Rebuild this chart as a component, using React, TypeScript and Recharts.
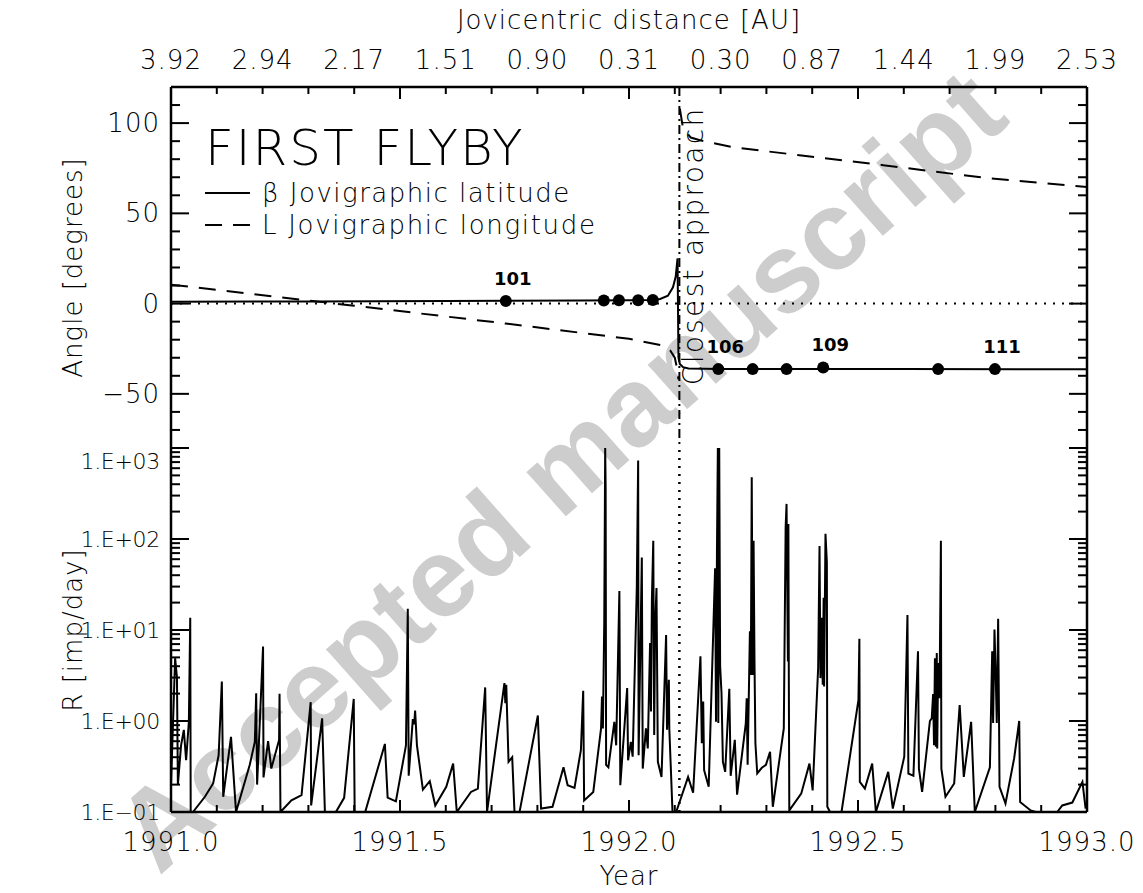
import React from "react";
import {
  ComposedChart,
  Line,
  Scatter,
  XAxis,
  YAxis,
  ReferenceLine,
  Legend,
} from "recharts";

const FONT = "'DejaVu Sans', sans-serif";
const W = 1143;

const closestApproach = 1992.11;

// upper panel: beta (jovigraphic latitude)
const latYear = [1991.0, 1991.3, 1991.6, 1991.9, 1992.0, 1992.05, 1992.068, 1992.085, 1992.096, 1992.102, 1992.106, 1992.108, 1992.111, 1992.118, 1992.13, 1992.2, 1992.6, 1993.0];
const latAngle = [1.0, 1.2, 1.5, 1.7, 1.8, 2.0, 2.6, 4.4, 9, 15, 25, -30, -33.5, -35.2, -35.9, -36.2, -36.3, -36.4];

// upper panel: L (jovigraphic longitude), null = wrap at closest approach
const lonYear = [1991.0, 1991.4, 1991.73, 1992.0, 1992.07, 1992.09, 1992.1, 1992.105, 1992.108, 1992.109, 1992.111, 1992.118, 1992.135, 1992.155, 1992.227, 1992.555, 1992.773, 1993.0];
const lonAngle = [10.5, -1.2, -11, -19.5, -23, -26, -30, -36, -42, null, 108, 97, 92, 90.5, 86.6, 76.7, 69.8, 64.6];

// orbit markers
const orbitYear = [1991.731, 1991.945, 1991.978, 1992.02, 1992.052, 1992.195, 1992.27, 1992.344, 1992.424, 1992.675, 1992.799];
const orbitAngle = [1.4, 1.7, 1.8, 1.9, 2.0, -36.3, -36.3, -36.3, -35.4, -36.3, -36.3];
const orbitNumber = [101, 102, 103, 104, 105, 106, 107, 108, 109, 110, 111];
const labelledOrbits = [101, 106, 109, 111];

// lower panel: impact rate R [imp/day]
const rateYear = [
  1991.0, 1991.009, 1991.013, 1991.015, 1991.022, 1991.028, 1991.033, 1991.039, 1991.042, 1991.043,
  1991.048, 1991.074, 1991.092, 1991.104, 1991.111, 1991.114, 1991.131, 1991.142, 1991.172, 1991.183,
  1991.186, 1991.188, 1991.201, 1991.202, 1991.212, 1991.219, 1991.236, 1991.237, 1991.239, 1991.263,
  1991.285, 1991.305, 1991.306, 1991.33, 1991.336, 1991.36, 1991.378, 1991.399, 1991.401, 1991.424,
  1991.467, 1991.473, 1991.491, 1991.513, 1991.517, 1991.519, 1991.528, 1991.531, 1991.533, 1991.537,
  1991.55, 1991.565, 1991.577, 1991.601, 1991.616, 1991.624, 1991.655, 1991.67, 1991.686, 1991.69,
  1991.728, 1991.73, 1991.732, 1991.737, 1991.745, 1991.75, 1991.761, 1991.801, 1991.808, 1991.833,
  1991.857, 1991.866, 1991.881, 1991.895, 1991.9, 1991.902, 1991.922, 1991.939, 1991.941, 1991.943,
  1991.946, 1991.948, 1991.949, 1991.95, 1991.955, 1991.968, 1991.972, 1991.979, 1991.981, 1991.996,
  1991.998, 1992.004, 1992.008, 1992.017, 1992.02, 1992.021, 1992.028, 1992.03, 1992.037, 1992.041,
  1992.046, 1992.048, 1992.05, 1992.053, 1992.055, 1992.057, 1992.06, 1992.063, 1992.071, 1992.081,
  1992.083, 1992.087, 1992.088, 1992.095, 1992.103, 1992.129, 1992.14, 1992.156, 1992.159, 1992.162,
  1992.164, 1992.174, 1992.188, 1992.19, 1992.192, 1992.194, 1992.195, 1992.197, 1992.199, 1992.202,
  1992.205, 1992.21, 1992.219, 1992.222, 1992.231, 1992.236, 1992.255, 1992.257, 1992.259, 1992.264,
  1992.266, 1992.268, 1992.27, 1992.272, 1992.274, 1992.276, 1992.28, 1992.29, 1992.299, 1992.308,
  1992.314, 1992.338, 1992.342, 1992.344, 1992.347, 1992.348, 1992.349, 1992.35, 1992.376, 1992.394,
  1992.401, 1992.413, 1992.416, 1992.418, 1992.421, 1992.423, 1992.425, 1992.426, 1992.429, 1992.432,
  1992.433, 1992.439, 1992.464, 1992.501, 1992.503, 1992.504, 1992.515, 1992.531, 1992.539, 1992.566,
  1992.576, 1992.601, 1992.608, 1992.61, 1992.621, 1992.631, 1992.633, 1992.64, 1992.657, 1992.661,
  1992.664, 1992.666, 1992.668, 1992.67, 1992.672, 1992.673, 1992.675, 1992.678, 1992.681, 1992.682,
  1992.691, 1992.71, 1992.722, 1992.731, 1992.747, 1992.755, 1992.788, 1992.793, 1992.795, 1992.798,
  1992.801, 1992.803, 1992.806, 1992.808, 1992.809, 1992.822, 1992.841, 1992.852, 1992.854, 1992.877,
  1992.888, 1992.935, 1992.946, 1992.968, 1992.99, 1992.997,
];
const rateValue = [
  0.2, 4.9, 3.0, 0.2, 0.54, 0.8, 0.37, 0.98, 13.6, 0.1,
  0.1, 0.147, 0.206, 0.42, 2.72, 0.147, 0.67, 0.1, 0.33, 0.59,
  2.02, 0.2, 6.6, 0.24, 0.6, 0.3, 0.62, 1.99, 0.1, 0.134,
  0.153, 1.61, 0.118, 1.07, 0.1, 0.1, 0.143, 1.75, 0.1, 0.1,
  0.56, 0.144, 0.131, 0.54, 17.1, 0.25, 1.05, 0.92, 1.3, 0.54,
  0.176, 0.218, 0.118, 0.189, 0.34, 0.1, 0.166, 0.181, 2.34, 0.1,
  2.61, 1.57, 2.5, 0.356, 0.4, 0.1, 0.1, 1.15, 0.109, 0.114,
  0.31, 0.197, 0.184, 0.48, 2.15, 0.134, 0.166, 0.83, 1.86, 0.83,
  12.5, 1000, 371, 0.33, 0.31, 0.98, 0.54, 26.8, 0.197, 2.3,
  0.37, 0.59, 0.405, 29.2, 729, 0.42, 62.5, 0.3, 0.83, 0.5,
  7.2, 1.27, 21.7, 95.5, 0.7, 11, 29, 0.356, 0.243, 8.8,
  0.8, 2.84, 0.83, 0.1, 0.1, 0.243, 0.163, 5.14, 0.57, 1.64,
  0.288, 0.189, 47.7, 0.98, 68, 1000, 0.95, 1000, 4.0, 2.02,
  0.356, 0.276, 2.26, 0.25, 0.62, 0.155, 0.94, 1.78, 0.33, 9.7,
  3.2, 478, 3.2, 95.5, 4.5, 0.57, 0.265, 0.306, 0.33, 0.46,
  0.114, 0.83, 134, 243, 4.5, 146, 2.5, 0.104, 0.159, 0.34,
  0.173, 3.82, 84, 2.96, 13.6, 2.5, 22.6, 2.4, 114, 55,
  0.114, 0.1, 0.1, 1.71, 8, 0.214, 0.181, 0.34, 0.1, 0.276,
  0.109, 0.405, 14.6, 0.265, 0.25, 5.83, 0.3, 0.166, 1.0, 1.07,
  1.98, 0.54, 4.9, 0.52, 5.6, 0.5, 4.34, 1.78, 95.5, 0.3,
  0.147, 0.206, 1.5, 0.243, 0.98, 0.1, 0.31, 5.83, 0.95, 10.1,
  2.72, 0.95, 13.3, 0.95, 0.189, 0.124, 0.39, 1.0, 0.129, 0.104,
  0.1, 0.1, 0.118, 0.127, 0.214, 0.109,
];

// axes
const yearTicks = Array.from({ length: 21 }, (_, i) => Math.round((1991 + i * 0.1) * 10) / 10);
const yearLabelValues = [1991.0, 1991.5, 1992.0, 1992.5, 1993.0];
const yearLabels = ["1991.0", "1991.5", "1992.0", "1992.5", "1993.0"];
const distanceTickYears = [1991.0, 1991.2, 1991.4, 1991.6, 1991.8, 1992.0, 1992.2, 1992.4, 1992.6, 1992.8, 1993.0];
const distanceLabels = ["3.92", "2.94", "2.17", "1.51", "0.90", "0.31", "0.30", "0.87", "1.44", "1.99", "2.53"];
const angleTicks = Array.from({ length: 21 }, (_, i) => -80 + i * 10);
const angleLabelValues = [-50, 0, 50, 100];
const angleLabels = ["\u221250", "0", "50", "100"];
const rateTicks = [0.1, 1, 10, 100].flatMap((d) => [1, 2, 3, 4, 5, 6, 7, 8, 9].map((m) => m * d)).concat([1000]);
const rateLabelValues = [0.1, 1, 10, 100, 1000];
const rateLabels = ["1.E\u221201", "1.E+00", "1.E+01", "1.E+02", "1.E+03"];

const latData = latYear.map((year, i) => ({ year, angle: latAngle[i] }));
const lonData = lonYear.map((year, i) => ({ year, angle: lonAngle[i] }));
const orbitData = orbitYear.map((year, i) => ({ year, angle: orbitAngle[i], orbit: orbitNumber[i] }));
const rateData = rateYear.map((year, i) => ({ year, rate: rateValue[i] }));

const frame = { stroke: "#000", strokeWidth: 2.5 };
const txt = { fontFamily: FONT, fontSize: 26, fontWeight: 200, letterSpacing: 1, fill: "#000" };
const smallTxt = { ...txt, fontSize: 22, letterSpacing: -0.3 };

const near = (a: number, b: number) => Math.abs(a - b) < 1e-6 * Math.max(1, Math.abs(b));
const labelAt = (values: number[], labels: string[], v: number) => {
  const i = values.findIndex((x) => near(x, Number(v)));
  return i >= 0 ? labels[i] : undefined;
};
const halfYear = (v: number) => Math.abs(v * 2 - Math.round(v * 2)) < 1e-6;
const decade = (v: number) => Math.abs(Math.log10(v) - Math.round(Math.log10(v))) < 1e-6;

// x ticks: dir = +1 draws downward, -1 upward
const xTick = (dir: number, labels?: [number[], string[]], labelDy = 0) => (props: any) => {
  const { x, y, payload } = props;
  const v = Number(payload.value);
  const len = halfYear(v) ? 12 : 7;
  const label = labels ? labelAt(labels[0], labels[1], v) : undefined;
  return (
    <g>
      <line x1={x} x2={x} y1={y} y2={y + dir * len} stroke="#000" strokeWidth={2} />
      {label && (
        <text x={x} y={y + labelDy} textAnchor="middle" dominantBaseline="central" {...txt}>
          {label}
        </text>
      )}
    </g>
  );
};

// y ticks: dir = +1 draws rightward, -1 leftward
const yTick = (dir: number, isMajor: (v: number) => boolean, labels?: [number[], string[]], style = txt) => (props: any) => {
  const { x, y, payload } = props;
  const v = Number(payload.value);
  const len = isMajor(v) ? 18 : 9;
  const label = labels ? labelAt(labels[0], labels[1], v) : undefined;
  const dy = near(v, 1000) ? 13 : 0;
  return (
    <g>
      <line x1={x} x2={x + dir * len} y1={y} y2={y} stroke="#000" strokeWidth={2} />
      {label && (
        <text x={x - 11} y={y + dy} textAnchor="end" dominantBaseline="central" {...style}>
          {label}
        </text>
      )}
    </g>
  );
};

const yTitle = (text: string) => (props: any) => {
  const vb = props.viewBox;
  const cx = vb.x + 73;
  const cy = vb.y + vb.height / 2;
  return (
    <text x={cx} y={cy} transform={`rotate(-90 ${cx} ${cy})`} textAnchor="middle" dominantBaseline="central" {...txt}>
      {text}
    </text>
  );
};

const xTitle = (text: string, dy: number) => (props: any) => {
  const vb = props.viewBox;
  return (
    <text x={vb.x + vb.width / 2} y={vb.y + dy} textAnchor="middle" dominantBaseline="central" {...txt}>
      {text}
    </text>
  );
};

const caLabel = (props: any) => {
  const vb = props.viewBox;
  const cx = vb.x + 14;
  const cy = vb.y + vb.height * 0.44;
  return (
    <text x={cx} y={cy} transform={`rotate(-90 ${cx} ${cy})`} textAnchor="middle" dominantBaseline="central" {...txt} fontSize={28} letterSpacing={2.3}>
      Closest approach
    </text>
  );
};

const OrbitDot = (props: any) => {
  const { cx, cy, payload } = props;
  return (
    <g>
      <circle cx={cx} cy={cy} r={6} fill="#000" />
      {labelledOrbits.includes(payload.orbit) && (
        <text x={cx + 7} y={cy - 23} textAnchor="middle" dominantBaseline="central" fontFamily={FONT} fontSize={18} fontWeight="bold" fill="#000">
          {payload.orbit}
        </text>
      )}
    </g>
  );
};

const LAT_NAME = "\u03b2 Jovigraphic latitude";
const LON_NAME = "L Jovigraphic longitude";

const FlybyLegend = () => (
  <svg width={460} height={140}>
    <text x={10} y={65} fontFamily={FONT} fontSize={50} fontWeight={200} letterSpacing={2} fill="#000">FIRST FLYBY</text>
    <line x1={10} x2={55} y1={93} y2={93} stroke="#000" strokeWidth={2} />
    <text x={67} y={93} dominantBaseline="central" {...txt} letterSpacing={1.5}>{LAT_NAME}</text>
    <line x1={10} x2={55} y1={125} y2={125} stroke="#000" strokeWidth={2} strokeDasharray="17 11" />
    <text x={67} y={125} dominantBaseline="central" {...txt} letterSpacing={1.7}>{LON_NAME}</text>
  </svg>
);

export default function App() {
  return (
    <div style={{ position: "absolute", left: 0, top: 0, width: W, height: 893, background: "#fff", overflow: "hidden" }}>
      <svg width={W} height={893} style={{ position: "absolute", left: 0, top: 0 }}>
        <text
          x={560}
          y={470}
          transform="rotate(-41.5 560 470)"
          textAnchor="middle"
          dominantBaseline="central"
          fontFamily="'Liberation Sans', Arial, sans-serif"
          fontWeight="bold"
          fontSize={112}
          fill="#cdcdcd"
        >
          Accepted manuscript
        </text>
      </svg>

      <div style={{ position: "absolute", left: 0, top: 0 }}>
        <ComposedChart width={W} height={449} margin={{ top: 0, right: 0, bottom: 1, left: 0 }}>
          <XAxis
            xAxisId="year"
            dataKey="year"
            orientation="top"
            type="number"
            domain={[1991, 1993]}
            allowDataOverflow
            ticks={yearTicks}
            interval={0}
            height={87}
            tickSize={0}
            tickMargin={0}
            tickLine={false}
            axisLine={frame}
            tick={xTick(1, [distanceTickYears, distanceLabels], -27)}
            label={xTitle("Jovicentric distance [AU]", 20)}
          />
          <XAxis
            xAxisId="edge"
            orientation="bottom"
            type="number"
            domain={[1991, 1993]}
            allowDataOverflow
            ticks={yearTicks}
            interval={0}
            height={0}
            tickSize={0}
            tickMargin={0}
            tickLine={false}
            axisLine={frame}
            tick={xTick(-1)}
          />
          <YAxis
            yAxisId="angle"
            orientation="left"
            type="number"
            domain={[-80, 120]}
            allowDataOverflow
            ticks={angleTicks}
            interval={0}
            width={171}
            tickSize={0}
            tickMargin={0}
            tickLine={false}
            axisLine={frame}
            tick={yTick(1, (v) => v % 50 === 0, [angleLabelValues, angleLabels])}
            label={yTitle("Angle [degrees]")}
          />
          <YAxis
            yAxisId="angleR"
            orientation="right"
            type="number"
            domain={[-80, 120]}
            allowDataOverflow
            ticks={angleTicks}
            interval={0}
            width={56}
            tickSize={0}
            tickMargin={0}
            tickLine={false}
            axisLine={frame}
            tick={yTick(-1, (v) => v % 50 === 0)}
          />
          <ReferenceLine xAxisId="year" yAxisId="angle" y={0} stroke="#000" strokeWidth={2} strokeDasharray="2 7" />
          <ReferenceLine
            xAxisId="year"
            yAxisId="angle"
            x={closestApproach}
            stroke="#000"
            strokeWidth={2}
            strokeDasharray="9 4 2 4"
            label={caLabel}
          />
          <Line
            xAxisId="year"
            yAxisId="angle"
            data={lonData}
            dataKey="angle"
            name={LON_NAME}
            type="linear"
            stroke="#000"
            strokeWidth={2}
            strokeDasharray="17 11"
            dot={false}
            activeDot={false}
            isAnimationActive={false}
          />
          <Line
            xAxisId="year"
            yAxisId="angle"
            data={latData}
            dataKey="angle"
            name={LAT_NAME}
            type="linear"
            stroke="#000"
            strokeWidth={2}
            dot={false}
            activeDot={false}
            isAnimationActive={false}
          />
          <Scatter
            xAxisId="year"
            yAxisId="angle"
            data={orbitData}
            dataKey="angle"
            shape={OrbitDot}
            legendType="none"
            isAnimationActive={false}
          />
          <Legend
            layout="vertical"
            align="center"
            verticalAlign="middle"
            wrapperStyle={{ left: 195, top: 100, width: 460, height: 140 }}
            content={() => <FlybyLegend />}
          />
        </ComposedChart>
      </div>

      <div style={{ position: "absolute", left: 0, top: 447 }}>
        <ComposedChart width={W} height={446} margin={{ top: 1, right: 0, bottom: 0, left: 0 }}>
          <XAxis
            xAxisId="edge"
            orientation="top"
            type="number"
            domain={[1991, 1993]}
            allowDataOverflow
            ticks={yearTicks}
            interval={0}
            height={0}
            tickSize={0}
            tickMargin={0}
            tickLine={false}
            axisLine={frame}
            tick={xTick(1)}
          />
          <XAxis
            xAxisId="year"
            dataKey="year"
            orientation="bottom"
            type="number"
            domain={[1991, 1993]}
            allowDataOverflow
            ticks={yearTicks}
            interval={0}
            height={81}
            tickSize={0}
            tickMargin={0}
            tickLine={false}
            axisLine={frame}
            tick={xTick(-1, [yearLabelValues, yearLabels], 30)}
            label={xTitle("Year", 64)}
          />
          <YAxis
            yAxisId="rate"
            orientation="left"
            type="number"
            scale="log"
            domain={[0.1, 1000]}
            allowDataOverflow
            ticks={rateTicks}
            interval={0}
            width={171}
            tickSize={0}
            tickMargin={0}
            tickLine={false}
            axisLine={frame}
            tick={yTick(1, decade, [rateLabelValues, rateLabels], smallTxt)}
            label={yTitle("R [imp/day]")}
          />
          <YAxis
            yAxisId="rateR"
            orientation="right"
            type="number"
            scale="log"
            domain={[0.1, 1000]}
            allowDataOverflow
            ticks={rateTicks}
            interval={0}
            width={56}
            tickSize={0}
            tickMargin={0}
            tickLine={false}
            axisLine={frame}
            tick={yTick(-1, decade)}
          />
          <ReferenceLine xAxisId="year" yAxisId="rate" x={closestApproach} stroke="#000" strokeWidth={2.5} strokeDasharray="2 6" />
          <Line
            xAxisId="year"
            yAxisId="rate"
            data={rateData}
            dataKey="rate"
            type="linear"
            stroke="#000"
            strokeWidth={2}
            dot={false}
            activeDot={false}
            isAnimationActive={false}
          />
        </ComposedChart>
      </div>
    </div>
  );
}
